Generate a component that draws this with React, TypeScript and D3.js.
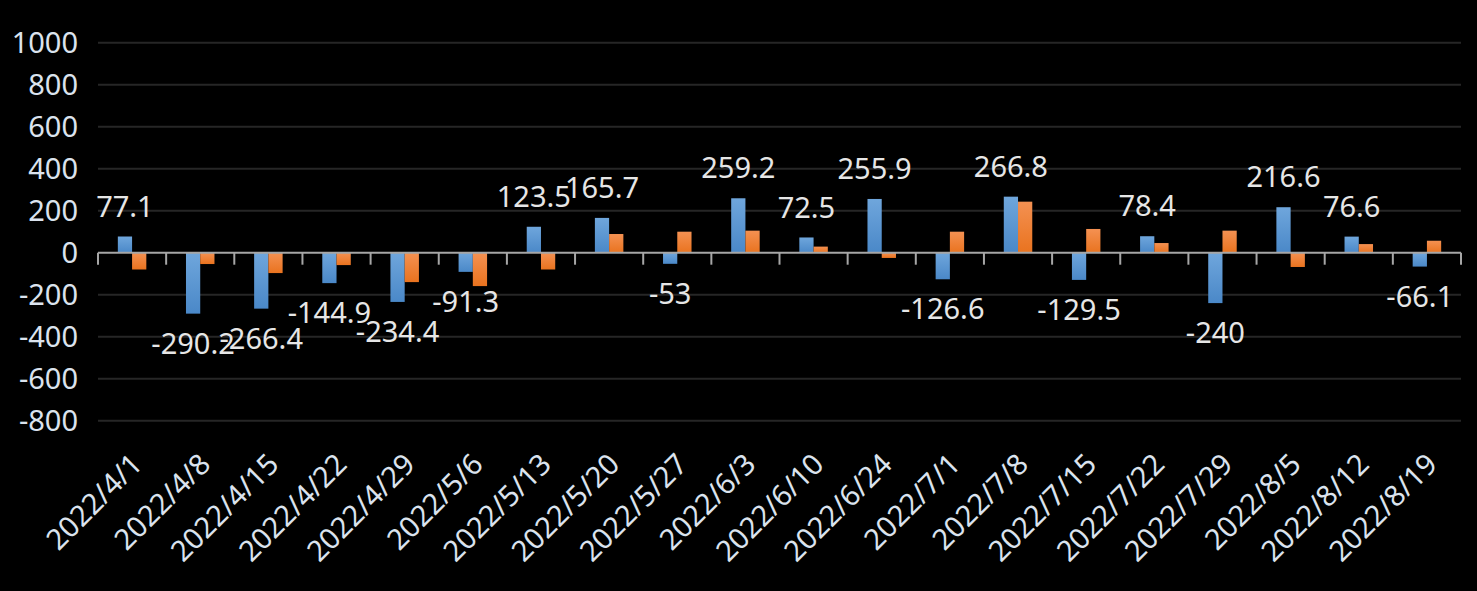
import React, { useEffect, useRef } from 'react';
import * as d3 from 'd3';

const categories = [
  '2022/4/1', '2022/4/8', '2022/4/15', '2022/4/22', '2022/4/29', '2022/5/6',
  '2022/5/13', '2022/5/20', '2022/5/27', '2022/6/3', '2022/6/10', '2022/6/24',
  '2022/7/1', '2022/7/8', '2022/7/15', '2022/7/22', '2022/7/29', '2022/8/5',
  '2022/8/12', '2022/8/19',
];
const blueValues = [
  77.1, -290.2, -266.4, -144.9, -234.4, -91.3, 123.5, 165.7, -53, 259.2,
  72.5, 255.9, -126.6, 266.8, -129.5, 78.4, -240, 216.6, 76.6, -66.1,
];
const orangeValues = [
  -80, -54, -97, -59, -140, -159, -80, 89, 100, 105,
  29, -25, 100, 243, 113, 46, 105, -68, 41, 57,
];
const yTicks = [-800, -600, -400, -200, 0, 200, 400, 600, 800, 1000];
const seriesKeys = ['blue', 'orange'];

const W = 1477;
const H = 591;
const FONT = '"Noto Sans", "Open Sans", sans-serif';

export default function App() {
  const svgRef = useRef<SVGSVGElement>(null);

  useEffect(() => {
    if (!svgRef.current) return;
    const svg = d3.select(svgRef.current);
    svg.selectAll('*').remove();

    const margin = { top: 42.7, right: 16, bottom: 170.3, left: 98 };
    const x = d3.scaleBand()
      .domain(categories)
      .range([margin.left, W - margin.right])
      .paddingInner(0)
      .paddingOuter(0);
    const bw = x.bandwidth();
    const x1 = d3.scaleBand()
      .domain(seriesKeys)
      .range([bw * 0.291, bw * 0.709]);
    const y = d3.scaleLinear()
      .domain([-800, 1000])
      .range([H - margin.bottom, margin.top]);

    svg.append('rect').attr('width', W).attr('height', H).attr('fill', '#000');

    const defs = svg.append('defs');
    const grad = (id: string, c1: string, c2: string) => {
      const g = defs.append('linearGradient').attr('id', id)
        .attr('x1', 0).attr('y1', 0).attr('x2', 0).attr('y2', 1);
      g.append('stop').attr('offset', '0%').attr('stop-color', c1);
      g.append('stop').attr('offset', '100%').attr('stop-color', c2);
    };
    grad('gBlue', '#6fa6dc', '#4a88c8');
    grad('gOrange', '#f49152', '#e9731f');

    // gridlines
    svg.append('g')
      .selectAll('line')
      .data(yTicks.filter(t => t !== 0))
      .enter()
      .append('line')
      .attr('x1', margin.left)
      .attr('x2', W - margin.right)
      .attr('y1', d => y(d))
      .attr('y2', d => y(d))
      .attr('stroke', '#262626')
      .attr('stroke-width', 2);

    // y labels
    svg.append('g')
      .selectAll('text')
      .data(yTicks)
      .enter()
      .append('text')
      .attr('x', 78)
      .attr('y', d => y(d))
      .attr('dy', '0.35em')
      .attr('text-anchor', 'end')
      .attr('font-family', FONT)
      .attr('font-size', 29)
      .attr('fill', '#dbe3ee')
      .text(d => String(d));

    // bars
    const data = categories.map((c, i) => ({ c, blue: blueValues[i], orange: orangeValues[i] }));
    const groups = svg.append('g')
      .selectAll('g')
      .data(data)
      .enter()
      .append('g')
      .attr('transform', d => `translate(${x(d.c)},0)`);
    groups.selectAll('rect')
      .data(d => seriesKeys.map(k => ({ k, v: (d as any)[k] as number })))
      .enter()
      .append('rect')
      .attr('x', d => x1(d.k) as number)
      .attr('width', x1.bandwidth())
      .attr('y', d => y(Math.max(0, d.v)))
      .attr('height', d => Math.abs(y(d.v) - y(0)))
      .attr('fill', d => (d.k === 'blue' ? 'url(#gBlue)' : 'url(#gOrange)'));

    // axis line and ticks
    const axisG = svg.append('g');
    axisG.append('line')
      .attr('x1', margin.left)
      .attr('x2', W - margin.right)
      .attr('y1', y(0))
      .attr('y2', y(0))
      .attr('stroke', '#a6a6a6')
      .attr('stroke-width', 2);
    const bounds = categories.map(c => x(c) as number).concat([W - margin.right]);
    axisG.selectAll('.tick')
      .data(bounds)
      .enter()
      .append('line')
      .attr('x1', d => d)
      .attr('x2', d => d)
      .attr('y1', y(0))
      .attr('y2', y(0) + 12)
      .attr('stroke', '#a6a6a6')
      .attr('stroke-width', 2);

    // data labels for blue series
    svg.append('g')
      .selectAll('text')
      .data(data)
      .enter()
      .append('text')
      .attr('x', d => (x(d.c) as number) + (x1('blue') as number) + x1.bandwidth() / 2)
      .attr('y', d => (d.blue >= 0 ? y(d.blue) - 30 : y(d.blue) + 30))
      .attr('dy', '0.35em')
      .attr('text-anchor', 'middle')
      .attr('font-family', FONT)
      .attr('font-size', 29)
      .attr('fill', '#e6e6e6')
      .text(d => String(d.blue));

    // category labels
    svg.append('g')
      .selectAll('text')
      .data(categories)
      .enter()
      .append('text')
      .attr('transform', d => `translate(${(x(d) as number) + bw / 2 + 12},${466}) rotate(-45)`)
      .attr('text-anchor', 'end')
      .attr('font-family', FONT)
      .attr('font-size', 29)
      .attr('fill', '#dbe3ee')
      .text(d => d);
  }, []);

  return (
    <div style={{ position: 'fixed', left: 0, top: 0, width: W, height: H, background: '#000' }}>
      <svg ref={svgRef} width={W} height={H} style={{ display: 'block' }} />
    </div>
  );
}
